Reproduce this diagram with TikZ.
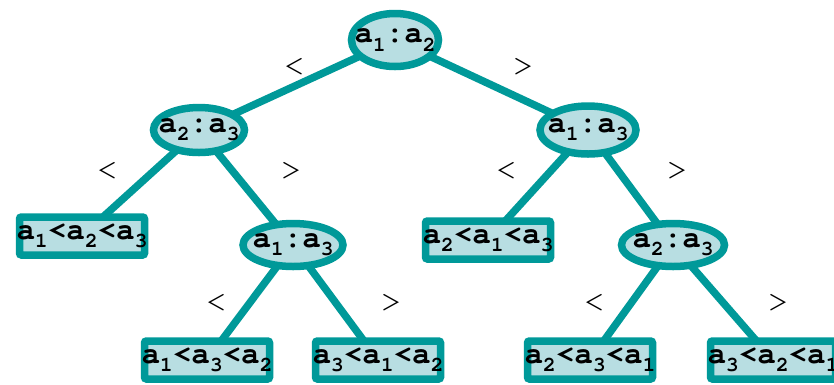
\documentclass[tikz,border=0pt]{standalone}
\usepackage[T1]{fontenc}
\usepackage{courier}
\usetikzlibrary{shapes.geometric,backgrounds}
\definecolor{teal1}{HTML}{009999}
\definecolor{tealfill}{HTML}{B8DEE2}
\newcommand{\subx}[1]{\raisebox{-0.27em}{\fontsize{21}{21}\selectfont #1}}
\newcommand{\cmp}[2]{\makebox[0pt]{a\subx{#1}:a\subx{#2}}}
\newcommand{\ord}[3]{\makebox[0pt]{a\subx{#1}<a\subx{#2}<a\subx{#3}}}
\tikzset{
  txt/.style={font=\ttfamily\bfseries\fontsize{31}{31}\selectfont, text=black},
  cmpnode/.style={txt, ellipse, draw=teal1, fill=tealfill, line width=7.5pt, inner sep=0pt},
  leafnode/.style={txt, rectangle, rounded corners=2pt, draw=teal1, fill=tealfill, line width=7.5pt, inner sep=0pt, minimum width=125pt, minimum height=38pt},
  edge/.style={draw=teal1, line width=7.5pt},
  lbl/.style={font=\ttfamily\fontsize{35}{35}\selectfont, inner sep=0pt}
}
\begin{document}
\begin{tikzpicture}[x=1pt,y=-1pt]
\useasboundingbox (0,0) rectangle (834,384);
% comparison nodes
\node[cmpnode, minimum width=87pt, minimum height=53pt] (root) at (395,40) {\cmp{1}{2}};
\node[cmpnode, minimum width=91pt, minimum height=45pt] (L) at (199,130) {\cmp{2}{3}};
\node[cmpnode, minimum width=96pt, minimum height=48pt] (R) at (588,130) {\cmp{1}{3}};
\node[cmpnode, minimum width=100pt, minimum height=43pt] (LR) at (293,245) {\cmp{1}{3}};
\node[cmpnode, minimum width=103pt, minimum height=43pt] (RR) at (673,245) {\cmp{2}{3}};
% leaves
\node[leafnode] (LL) at (82,236) {\ord{1}{2}{3}};
\node[leafnode] (RL) at (488,240) {\ord{2}{1}{3}};
\node[leafnode] (LRL) at (207,360) {\ord{1}{3}{2}};
\node[leafnode] (LRR) at (378,360) {\ord{3}{1}{2}};
\node[leafnode] (RRL) at (590,360) {\ord{2}{3}{1}};
\node[leafnode] (RRR) at (773,360) {\ord{3}{2}{1}};
% edges
\begin{pgfonlayer}{background}
\draw[edge] (root.center) -- (L.center);
\draw[edge] (root.center) -- (R.center);
\draw[edge] (L.center) -- (LL.center);
\draw[edge] (L.center) -- (LR.center);
\draw[edge] (R.center) -- (RL.center);
\draw[edge] (R.center) -- (RR.center);
\draw[edge] (LR.center) -- (LRL.center);
\draw[edge] (LR.center) -- (LRR.center);
\draw[edge] (RR.center) -- (RRL.center);
\draw[edge] (RR.center) -- (RRR.center);
\end{pgfonlayer}
% edge labels
\node[lbl] (l1) at (294,68) {<};
\node[lbl] (l2) at (523,68) {>};
\node[lbl] (l3) at (107,172) {<};
\node[lbl] (l4) at (291,172) {>};
\node[lbl] (l5) at (506,172) {<};
\node[lbl] (l6) at (677,172) {>};
\node[lbl] (l7) at (216,304) {<};
\node[lbl] (l8) at (391,304) {>};
\node[lbl] (l9) at (594,304) {<};
\node[lbl] (l10) at (778,304) {>};
\end{tikzpicture}
\end{document}
